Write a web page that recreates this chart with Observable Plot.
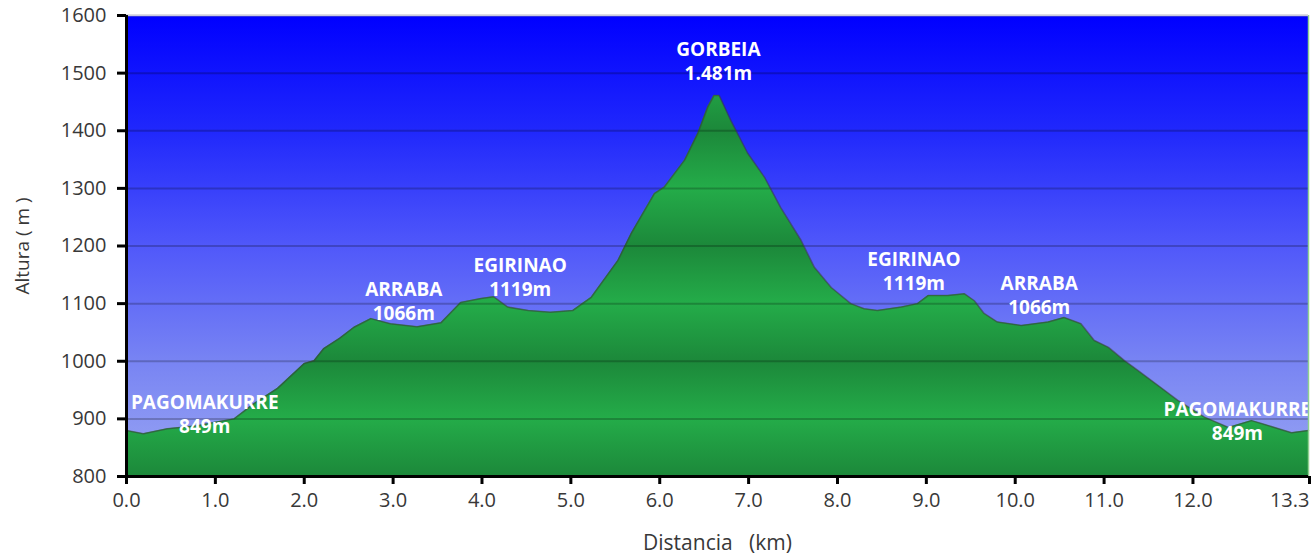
<!DOCTYPE html>
<html>
<head>
<meta charset="utf-8">
<script src="https://cdn.jsdelivr.net/npm/d3@7"></script>
<script src="https://cdn.jsdelivr.net/npm/@observablehq/plot@0.6"></script>
<style>
  html, body { margin: 0; padding: 0; background: #fff; }
  #chart { width: 1311px; height: 559px; }
</style>
</head>
<body>
<div id="chart"></div>
<script>
// Elevation profile: distance (km) and altitude (m)
const profileKm = [0.00, 0.19, 0.46, 0.80, 1.00, 1.21, 1.43, 1.70, 2.00, 2.11, 2.22, 2.40, 2.56, 2.75, 2.97, 3.27, 3.54, 3.76, 3.99, 4.13, 4.29, 4.52, 4.77, 5.02, 5.23, 5.53, 5.68, 5.94, 6.05, 6.28, 6.43, 6.54, 6.61, 6.67, 6.80, 6.99, 7.18, 7.36, 7.59, 7.74, 7.93, 8.15, 8.30, 8.45, 8.72, 8.90, 9.02, 9.24, 9.43, 9.54, 9.65, 9.80, 10.07, 10.37, 10.55, 10.74, 10.89, 11.05, 11.23, 11.38, 11.65, 11.83, 12.13, 12.40, 12.66, 12.77, 13.11, 13.30];
const profileAlt = [880, 874, 883, 888, 894, 900, 926, 953, 996, 1001, 1022, 1040, 1059, 1074, 1065, 1060, 1067, 1102, 1109, 1112, 1094, 1088, 1085, 1088, 1111, 1175, 1222, 1291, 1302, 1349, 1396, 1441, 1461, 1461, 1418, 1361, 1319, 1267, 1210, 1163, 1128, 1100, 1091, 1088, 1094, 1100, 1114, 1114, 1117, 1105, 1083, 1068, 1062, 1068, 1076, 1065, 1036, 1024, 1001, 984, 953, 932, 903, 885, 897, 892, 876, 880];

// Summit annotations
const peakNames = ["PAGOMAKURRE", "ARRABA", "EGIRINAO", "GORBEIA", "EGIRINAO", "ARRABA", "PAGOMAKURRE"];
const peakHeights = ["849m", "1066m", "1119m", "1.481m", "1119m", "1066m", "849m"];
const peakLabelKm = [0.88, 3.12, 4.43, 6.66, 8.86, 10.27, 12.50];
const peakLabelAlt = [909, 1106, 1147, 1523, 1158, 1116, 897];

// Axis ticks
const xTicks = [0, 1, 2, 3, 4, 5, 6, 7, 8, 9, 10, 11, 12];
const xEndTick = [13.3];
const yTicks = [800, 900, 1000, 1100, 1200, 1300, 1400, 1500, 1600];

const profile = profileKm.map((km, i) => ({km, alt: profileAlt[i]}));
const peaks = peakNames.map((name, i) => ({label: name + "\n" + peakHeights[i], km: peakLabelKm[i], alt: peakLabelAlt[i]}));

const plot = Plot.plot({
  width: 1311,
  height: 559,
  marginLeft: 126,
  marginRight: 3,
  marginTop: 15,
  marginBottom: 83,
  x: {domain: [0, 13.3]},
  y: {domain: [800, 1600]},
  style: {fontFamily: "'Open Sans', sans-serif", background: "#fff", overflow: "visible"},
  marks: [
    Plot.frame({fill: "url(#sky)", stroke: null}),
    Plot.areaY(profile, {x: "km", y1: 800, y2: "alt", fill: "url(#greenBands)"}),
    Plot.ruleY(yTicks.filter(d => d > 800), {stroke: "#000", strokeOpacity: 0.22, strokeWidth: 2}),
    Plot.lineY(profile, {x: "km", y: "alt", stroke: "#3a3a3a", strokeOpacity: 0.55, strokeWidth: 1.5}),
    Plot.text(peaks, {x: "km", y: "alt", text: "label", fill: "#fff", fontWeight: "bold", fontSize: 19, lineHeight: 1.27}),
    Plot.ruleX([13.3], {stroke: "#8fd08f", strokeWidth: 1.5}),
    Plot.ruleY([1600], {stroke: "#c8c8e0", strokeWidth: 1.5}),
    Plot.axisX(xTicks, {tickFormat: d => d.toFixed(1), tickSize: 8, tickPadding: 8, fontSize: 20, fill: "#383838", stroke: "#000", strokeWidth: 3, label: null}),
    Plot.axisX(xEndTick, {tickFormat: d => d.toFixed(1), tickSize: 8, tickPadding: 8, fontSize: 20, fill: "#383838", stroke: "#000", strokeWidth: 3, textAnchor: "end", dx: 1, label: null}),
    Plot.axisY(yTicks, {tickFormat: d => String(d), tickSize: 9, tickPadding: 11, fontSize: 20, fill: "#383838", stroke: "#000", strokeWidth: 3, label: null}),
    Plot.ruleY([800], {stroke: "#000", strokeWidth: 3}),
    Plot.ruleX([0], {stroke: "#000", strokeWidth: 3}),
    Plot.text(["Distancia\u00a0\u00a0\u00a0(km)"], {frameAnchor: "bottom", dy: 73, fontSize: 21, fill: "#383838"}),
    Plot.text(["Altura\u00a0(\u00a0m\u00a0)"], {frameAnchor: "left", textAnchor: "middle", dx: -104, rotate: -90, fontSize: 19, fill: "#383838"})
  ]
});

const y = plot.scale("y");
const ns = "http://www.w3.org/2000/svg";
const defs = document.createElementNS(ns, "defs");
defs.innerHTML = `
  <linearGradient id="sky" x1="0" y1="0" x2="0" y2="1">
    <stop offset="0" stop-color="#0000ff"/>
    <stop offset="0.25" stop-color="#2028fc"/>
    <stop offset="0.5" stop-color="#5058fa"/>
    <stop offset="0.75" stop-color="#7884f3"/>
    <stop offset="1" stop-color="#9aa6f2"/>
  </linearGradient>
  <linearGradient id="greenBands" gradientUnits="userSpaceOnUse" spreadMethod="reflect"
     x1="0" x2="0" y1="${y.apply(900)}" y2="${y.apply(1000)}">
    <stop offset="0" stop-color="#24ac49"/>
    <stop offset="1" stop-color="#1c883a"/>
  </linearGradient>`;
plot.insertBefore(defs, plot.firstChild);
document.getElementById("chart").appendChild(plot);
</script>
</body>
</html>
